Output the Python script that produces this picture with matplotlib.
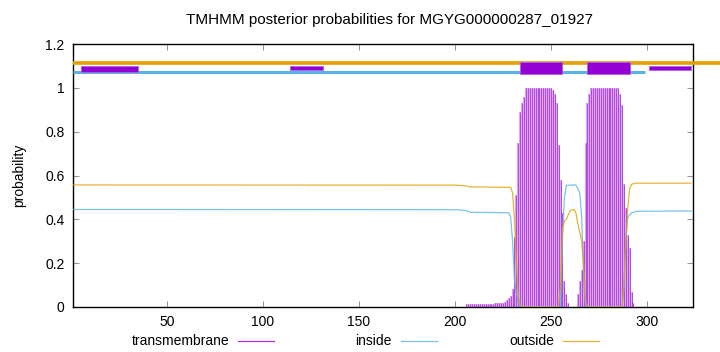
import numpy as np
import matplotlib
matplotlib.use("Agg")
import matplotlib.pyplot as plt
from matplotlib.patches import Rectangle

plt.rcParams['font.family'] = ['Liberation Sans', 'DejaVu Sans']

title = "TMHMM posterior probabilities for MGYG000000287_01927"
seq_len = 323

# transmembrane posterior per residue (only non-zero part listed)
tm_pos = list(range(206, 260)) + list(range(264, 294))
tm_val = [0.015, 0.015, 0.015, 0.015, 0.015, 0.015, 0.015, 0.015, 0.015, 0.015,
          0.015, 0.015, 0.015, 0.015, 0.015, 0.018, 0.018, 0.018, 0.018, 0.02,
          0.025, 0.03, 0.04, 0.05,
          0.08, 0.32, 0.51, 0.75, 0.89, 0.93, 0.96,
          1.0, 1.0, 1.0, 1.0, 1.0, 1.0, 1.0, 1.0, 1.0, 1.0, 1.0, 1.0, 1.0, 1.0,
          0.99, 0.97, 0.93, 0.74, 0.58, 0.43, 0.12, 0.06, 0.02,
          0.06, 0.12, 0.17, 0.3, 0.75, 0.93, 0.97,
          1.0, 1.0, 1.0, 1.0, 1.0, 1.0, 1.0, 1.0, 1.0, 1.0, 1.0, 1.0, 1.0, 1.0, 1.0,
          0.97, 0.92, 0.56, 0.45, 0.33, 0.27, 0.07, 0.02]

# inside / outside curves (points where the curve changes)
in_pos = [1, 200, 206, 208, 228, 229, 230, 231, 232, 233, 234, 255, 256, 257,
          258, 263, 264, 265, 266, 267, 268, 287, 288, 289, 290, 292, 295, 323]
in_val = [0.445, 0.444, 0.44, 0.432, 0.43, 0.41, 0.3, 0.12, 0.06, 0.02, 0.0, 0.0,
          0.3, 0.5, 0.555, 0.557, 0.54, 0.52, 0.41, 0.13, 0.0, 0.0, 0.08, 0.3,
          0.41, 0.43, 0.437, 0.438]
out_pos = [1, 200, 206, 208, 229, 230, 231, 232, 233, 234, 235, 254, 255, 256,
           257, 258, 259, 260, 262, 263, 264, 265, 266, 267, 268, 269, 287,
           288, 289, 290, 291, 292, 294, 323]
out_val = [0.557, 0.556, 0.552, 0.548, 0.546, 0.52, 0.4, 0.2, 0.05, 0.01, 0.0, 0.0,
           0.1, 0.36, 0.39, 0.40, 0.42, 0.44, 0.445, 0.43, 0.38, 0.34, 0.3, 0.2,
           0.03, 0.0, 0.0, 0.1, 0.3, 0.45, 0.54, 0.56, 0.565, 0.565]

# predicted topology bars on top
tm_start = [5, 114, 234, 269, 301]
tm_end = [35, 131, 256, 291, 323]
inside_span = (1, 299)
outside_span = (1, 345)

purple = '#9400d3'
blue = '#56b4e9'
orange = '#e69f00'

fig = plt.figure(figsize=(7.2, 3.52), dpi=100)
ax = fig.add_axes([73 / 720, 45 / 352, (693 - 73) / 720, (307 - 44) / 352])

# impulses
ax.bar(tm_pos, tm_val, width=1.0, color='#dca8f3', linewidth=0, zorder=2)
ax.vlines(tm_pos, 0, tm_val, color='#a020e0', lw=0.5, zorder=3)
ax.plot(in_pos, in_val, color=blue, lw=0.9, alpha=0.8, zorder=4)
ax.plot(out_pos, out_val, color=orange, lw=0.9, alpha=0.8, zorder=4)

# topology lines
ax.plot(outside_span, [1.112, 1.112], color=orange, lw=2.6, solid_capstyle='butt',
        clip_on=False, zorder=5)
ax.plot(inside_span, [1.07, 1.07], color=blue, lw=2.2, solid_capstyle='butt', zorder=5)
for i, (s, e) in enumerate(zip(tm_start, tm_end)):
    if i in (2, 3):
        lo, hi = 1.062, 1.117
    elif i == 0:
        lo, hi = 1.074, 1.10
    else:
        lo, hi = 1.082, 1.10
    ax.add_patch(Rectangle((s, lo), e - s, hi - lo, facecolor=purple,
                           edgecolor='#b060e0', lw=0.6, zorder=6))

ax.set_xlim(1, 324)
ax.set_ylim(0, 1.2)
ax.set_xticks([50, 100, 150, 200, 250, 300])
ax.set_yticks([0, 0.2, 0.4, 0.6, 0.8, 1.0, 1.2])
ax.set_yticklabels(['0', '0.2', '0.4', '0.6', '0.8', '1', '1.2'])
ax.tick_params(direction='in', length=4, width=0.8, color='#999999',
               labelsize=10, top=True, right=True, pad=6)
for sp in ax.spines.values():
    sp.set_linewidth(1.0)
    sp.set_color('black')
ax.set_ylabel('probability', fontsize=10, labelpad=14)

fig.text(390 / 720, 1 - 20 / 352, title, ha='center', va='center', fontsize=11)

# legend at the bottom, gnuplot style
ly = 1 - 341 / 352
legend = [("transmembrane", purple, 229, 238), ("inside", blue, 392, 401),
          ("outside", orange, 554, 563)]
for name, col, tx, lx in legend:
    fig.text(tx / 720, ly, name, ha='right', va='center', fontsize=10)
    fig.add_artist(plt.Line2D([lx / 720, (lx + 36) / 720], [ly, ly], color=col,
                              lw=0.9, alpha=0.8, transform=fig.transFigure))

fig.savefig("out.png", dpi=100)
